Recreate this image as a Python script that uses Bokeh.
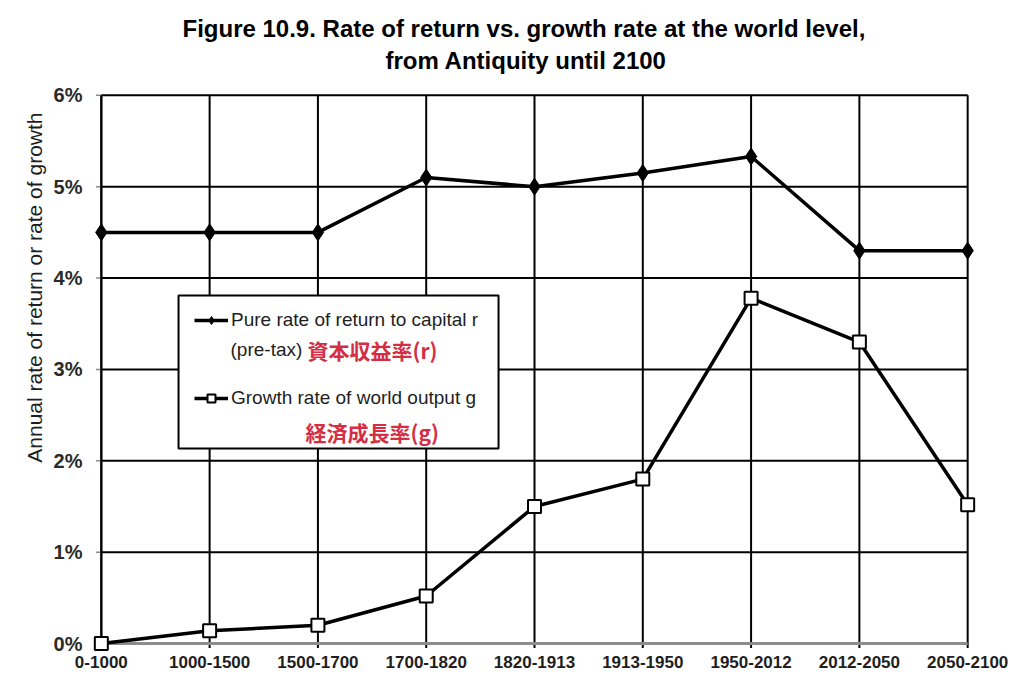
import math
from bokeh.plotting import figure
from bokeh.models import (FixedTicker, Range1d, Label, BoxAnnotation, Legend,
                          LegendItem, ColumnDataSource, Title)
from bokeh.embed import file_html
from bokeh.resources import INLINE

# ---- data ----
periods = ["0-1000", "1000-1500", "1500-1700", "1700-1820", "1820-1913",
           "1913-1950", "1950-2012", "2012-2050", "2050-2100"]
r_values = [4.5, 4.5, 4.5, 5.1, 5.0, 5.15, 5.33, 4.3, 4.3]
g_values = [0.0, 0.14, 0.2, 0.52, 1.5, 1.8, 3.78, 3.3, 1.52]
y_ticks = [0, 1, 2, 3, 4, 5, 6]
y_tick_labels = ["0%", "1%", "2%", "3%", "4%", "5%", "6%"]

title_1 = "Figure 10.9. Rate of return vs. growth rate at the world level,"
title_2 = "from Antiquity until 2100"
y_title = "Annual rate of return or rate of growth"
r_label = "Pure rate of return to capital r"
r_label2 = "(pre-tax)"
r_label_jp = "資本収益率(r)"
g_label = "Growth rate of world output g"
g_label_jp = "経済成長率(g)"

RED = "#d42e45"
TXT = "#1e1e1e"
SANS = "Liberation Sans"
NARROW = "'Liberation Sans Narrow', 'Arial Narrow', 'Liberation Sans'"
CJK = "Noto Sans CJK JP"

xs = list(range(len(periods)))
n = len(periods) - 1

p = figure(width=1008, height=683, output_backend="svg", toolbar_location=None,
           x_range=Range1d(-0.1, n + 0.1), y_range=Range1d(-0.12, 6.02),
           min_border_left=90, min_border_right=30, min_border_top=93,
           min_border_bottom=29)
p.outline_line_color = None
p.xgrid.visible = False
p.ygrid.visible = False
p.background_fill_color = "white"
p.border_fill_color = "white"

# grid lines (drawn from the category / tick lists)
p.segment(x0=xs, x1=xs, y0=[-0.05] * len(xs), y1=[max(y_ticks)] * len(xs),
          line_color="black", line_width=2)
hy = y_ticks[1:]
p.segment(x0=[0] * len(hy), x1=[n] * len(hy), y0=hy, y1=hy,
          line_color="black", line_width=2)
p.segment(x0=[-0.05] * len(y_ticks), x1=[0] * len(y_ticks), y0=y_ticks, y1=y_ticks,
          line_color="#8c8c8c", line_width=1.5)
p.segment(x0=[0], x1=[n], y0=[0], y1=[0], line_color="#8c8c8c", line_width=3)
p.segment(x0=[0], x1=[0], y0=[0], y1=[max(y_ticks)], line_color="black", line_width=2)

src = ColumnDataSource(dict(x=xs, r=r_values, g=g_values))
r_line = p.line("x", "r", source=src, line_color="black", line_width=3.5)
r_pts = p.scatter("x", "r", source=src, marker="diamond", size=17,
                  fill_color="black", line_color="black")
g_line = p.line("x", "g", source=src, line_color="black", line_width=3.5)
g_pts = p.scatter("x", "g", source=src, marker="square", size=13,
                  fill_color="white", line_color="black", line_width=2)

# axes
p.xaxis.ticker = FixedTicker(ticks=xs)
p.xaxis.major_label_overrides = {i: s for i, s in enumerate(periods)}
p.xaxis.axis_line_color = None
p.xaxis.major_tick_line_color = None
p.xaxis.major_tick_out = 0
p.xaxis.major_tick_in = 0
p.xaxis.minor_tick_line_color = None
p.xaxis.major_label_standoff = 1
p.xaxis.major_label_text_font = SANS
p.xaxis.major_label_text_font_style = "bold"
p.xaxis.major_label_text_font_size = "17px"
p.xaxis.major_label_text_color = TXT

p.yaxis.ticker = FixedTicker(ticks=y_ticks)
p.yaxis.major_label_overrides = {t: s for t, s in zip(y_ticks, y_tick_labels)}
p.yaxis.axis_line_color = None
p.yaxis.major_tick_line_color = None
p.yaxis.major_tick_out = 0
p.yaxis.major_tick_in = 0
p.yaxis.minor_tick_line_color = None
p.yaxis.major_label_standoff = 8
p.yaxis.major_label_text_font = SANS
p.yaxis.major_label_text_font_style = "bold"
p.yaxis.major_label_text_font_size = "20px"
p.yaxis.major_label_text_color = "#2a2a2a"

# legend box
box = BoxAnnotation(left=0.713, right=3.668, top=3.809, bottom=2.134,
                    fill_color="white", fill_alpha=1.0,
                    line_color="black", line_width=2, line_alpha=1.0)
p.add_layout(box)

legend = Legend(items=[LegendItem(label=r_label, renderers=[r_line, r_pts]),
                       LegendItem(label=g_label, renderers=[g_line, g_pts])],
                location=(104, 245), padding=0, margin=0, spacing=56,
                glyph_width=34, glyph_height=20, label_height=20,
                label_standoff=3, border_line_alpha=0,
                background_fill_alpha=0,
                label_text_font=SANS, label_text_font_size="19px",
                label_text_color=TXT)
p.add_layout(legend, "center")

p.add_layout(Label(x=1.193, y=3.218, text=r_label2, text_font=SANS,
                   text_font_size="19px", text_color=TXT,
                   text_baseline="middle"))
p.add_layout(Label(x=1.904, y=3.218, text=r_label_jp, text_font=CJK,
                   text_font_size="21px", text_font_style="bold",
                   text_color=RED, text_baseline="middle"))
p.add_layout(Label(x=1.886, y=2.320, text=g_label_jp, text_font=CJK,
                   text_font_size="21px", text_font_style="bold",
                   text_color=RED, text_baseline="middle"))

# titles (first added sits closest to the frame)
p.add_layout(Title(text=title_2, align="left", offset=295, text_font=NARROW,
                   text_font_size="24px", text_font_style="bold",
                   vertical_align="top",
                   text_color="black", standoff=36), "above")
p.add_layout(Title(text=title_1, align="left", offset=92, text_font=NARROW,
                   text_font_size="24px", text_font_style="bold",
                   text_color="black", standoff=-26), "above")

# y axis title
p.add_layout(Title(text=y_title, align="right", offset=19, text_font=SANS,
                   text_font_size="21px", text_font_style="normal",
                   text_color=TXT, standoff=10), "left")

open("out.html", "w").write(file_html(p, INLINE))
